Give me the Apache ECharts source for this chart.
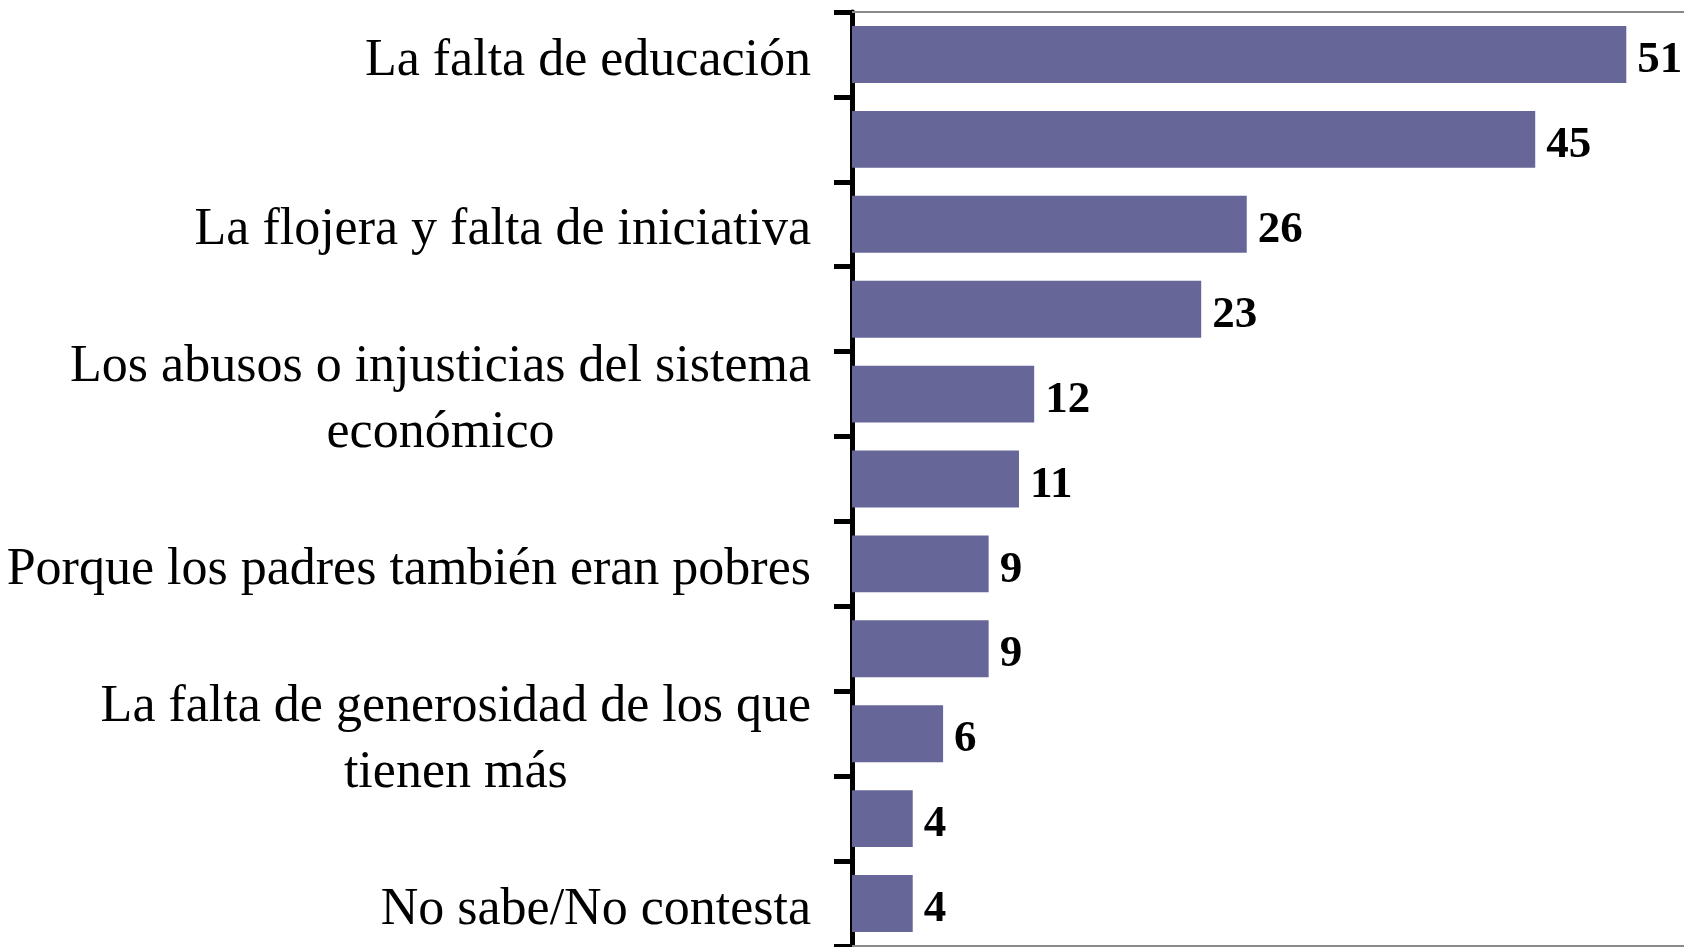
<!DOCTYPE html>
<html>
<head>
<meta charset="utf-8">
<script src="https://cdn.jsdelivr.net/npm/echarts@6/dist/echarts.min.js"></script>
<style>
  html, body { margin: 0; padding: 0; background: #fff; }
  #myChart { width: 1684px; height: 947px; }
</style>
</head>
<body>
<div id="myChart"></div>
<script>
// categorias (las etiquetas ocultas en el original quedan vacías)
const categories = [
  'La falta de educación',
  '',
  'La flojera y falta de iniciativa',
  '',
  'Los abusos o injusticias del sistema\neconómico',
  '',
  'Porque los padres también eran pobres',
  '',
  'La falta de generosidad de los que\ntienen más',
  '',
  'No sabe/No contesta'
];
const values = [51, 45, 26, 23, 12, 11, 9, 9, 6, 4, 4];

const serif = '"Liberation Serif", "Times New Roman", serif';

// el eje de valores sigue más allá del borde derecho en el original
const xMax = 54.8;

// bordes grises arriba y abajo del área de trazado
const borderAxis = (pos) => ({
  type: 'value',
  position: pos,
  min: 0, max: xMax,
  axisLine: { show: true, lineStyle: { color: '#8a8a8a', width: 2 } },
  axisTick: { show: false },
  axisLabel: { show: false },
  splitLine: { show: false }
});

let myChart = echarts.init(document.getElementById('myChart'));
myChart.setOption({
  animation: false,
  grid: { left: 852, right: 0, top: 12, bottom: 1 },
  xAxis: [borderAxis('top'), borderAxis('bottom')],
  yAxis: {
    type: 'category',
    inverse: true,
    data: categories,
    axisLine: { lineStyle: { color: '#000', width: 5 } },
    axisTick: { show: true, interval: 0, length: 18, lineStyle: { color: '#000', width: 5 } },
    axisLabel: {
      interval: 1,
      margin: 41,
      align: 'right',
      padding: [13, 0, 0, 0],
      formatter: v => v ? '{c|' + v + '}' : '',
      rich: {
        c: { align: 'center', fontFamily: serif, fontSize: 52, lineHeight: 66, color: '#000' }
      }
    }
  },
  series: [{
    type: 'bar',
    xAxisIndex: 0,
    data: values,
    barCategoryGap: '33%',
    itemStyle: { color: '#666699' },
    label: {
      show: true,
      position: 'right',
      distance: 11,
      offset: [0, 6],
      color: '#000',
      fontFamily: serif,
      fontWeight: 'bold',
      fontSize: 45
    }
  }]
});
</script>
</body>
</html>
